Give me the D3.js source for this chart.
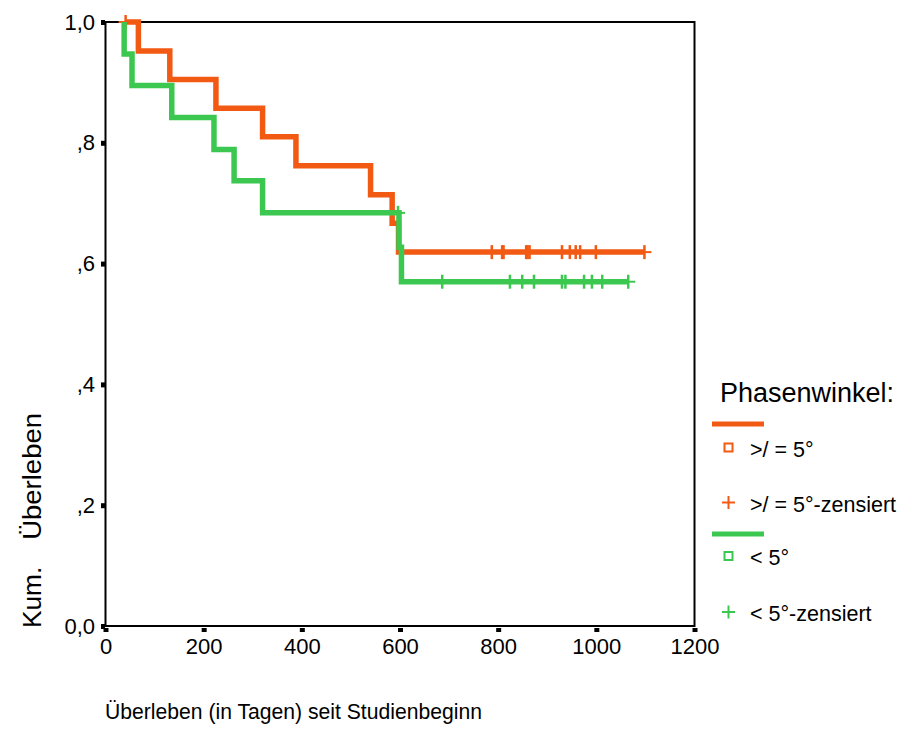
<!DOCTYPE html>
<html>
<head>
<meta charset="utf-8">
<script src="https://cdn.jsdelivr.net/npm/d3@7"></script>
<style>
  body { margin: 0; background: #fff; }
  text { font-family: "Liberation Sans", Arial, sans-serif; fill: #000; }
</style>
</head>
<body>
<div id="chart"></div>
<script>
// Kaplan-Meier data
const orangeStart = 41;
const orangeEventTimes = [67, 131, 225, 320, 388, 540, 584, 597];
const orangeSurv = [0.952, 0.905, 0.857, 0.810, 0.762, 0.714, 0.667, 0.619];
const orangeCensored = [41, 787, 808, 811, 857, 860, 864, 930, 946, 958, 967, 999, 1098];

const greenStart = 38;
const greenEventTimes = [38, 54, 135, 221, 262, 320, 598, 603];
const greenSurv = [0.947, 0.895, 0.842, 0.789, 0.737, 0.684, 0.627, 0.570];
const greenCensored = [596, 686, 824, 849, 873, 930, 937, 975, 991, 1012, 1065];

const xTicks = [0, 200, 400, 600, 800, 1000, 1200];
const yTicks = [0, 0.2, 0.4, 0.6, 0.8, 1.0];
const yTickLabels = ["0,0", ",2", ",4", ",6", ",8", "1,0"];

const orange = "#f25a14";
const green = "#3cc850";
const fontFamily = "Liberation Sans, Arial, sans-serif";

const svg = d3.select("#chart").append("svg")
    .attr("width", 900)
    .attr("height", 729);

svg.append("rect").attr("width", 900).attr("height", 729).attr("fill", "#fff");

const x = d3.scaleLinear().domain([0, 1200]).range([105.5, 694.5]);
const y = d3.scaleLinear().domain([0, 1]).range([626, 22]);

// frame
svg.append("rect")
    .attr("x", x(0))
    .attr("y", y(1))
    .attr("width", x(1200) - x(0))
    .attr("height", y(0) - y(1))
    .attr("fill", "none")
    .attr("stroke", "#000")
    .attr("stroke-width", 2);

// y axis
const yAxis = svg.append("g")
    .attr("transform", "translate(" + (x(0) - 0.5) + ",0)")
    .call(d3.axisLeft(y).tickValues(yTicks).tickSize(4).tickSizeOuter(0)
        .tickFormat((d, i) => yTickLabels[i]));
yAxis.select(".domain").remove();
yAxis.selectAll(".tick line").attr("stroke", "#000").attr("stroke-width", 5);
yAxis.selectAll(".tick text")
    .attr("x", -10)
    .style("font-size", "22px")
    .style("font-family", fontFamily);

// x axis
const xAxis = svg.append("g")
    .attr("transform", "translate(0,628)")
    .call(d3.axisBottom(x).tickValues(xTicks).tickSize(4).tickSizeOuter(0)
        .tickFormat(d3.format("d")));
xAxis.select(".domain").remove();
xAxis.selectAll(".tick line").attr("stroke", "#000").attr("stroke-width", 5);
xAxis.selectAll(".tick text")
    .attr("y", 10)
    .style("font-size", "22px")
    .style("font-family", fontFamily);

// step function helpers
function stepPoints(start, times, surv, end) {
    const pts = [[start, 1]];
    times.forEach((t, i) => pts.push([t, surv[i]]));
    pts.push([end, surv[surv.length - 1]]);
    return pts;
}
function survAt(t, times, surv) {
    let s = 1;
    times.forEach((tt, i) => { if (tt <= t) s = surv[i]; });
    return s;
}

const stepLine = d3.line()
    .x(d => x(d[0]))
    .y(d => y(d[1]))
    .curve(d3.curveStepAfter);

function drawGroup(start, times, surv, censored, color) {
    const end = d3.max(censored);
    svg.append("path")
        .attr("d", stepLine(stepPoints(start, times, surv, end)))
        .attr("fill", "none")
        .attr("stroke", color)
        .attr("stroke-width", 5.5)
        .attr("stroke-linejoin", "miter");

    const marks = svg.append("g").selectAll("g")
        .data(censored)
        .enter().append("g")
        .attr("transform", d => "translate(" + x(d) + "," + y(survAt(d, times, surv)) + ")");
    marks.append("line")
        .attr("x1", 0).attr("x2", 0).attr("y1", -7).attr("y2", 7)
        .attr("stroke", color).attr("stroke-width", 2.5);
    marks.append("line")
        .attr("x1", -7).attr("x2", 7).attr("y1", 0).attr("y2", 0)
        .attr("stroke", color).attr("stroke-width", 2);
}

drawGroup(orangeStart, orangeEventTimes, orangeSurv, orangeCensored, orange);
drawGroup(greenStart, greenEventTimes, greenSurv, greenCensored, green);

// axis titles
svg.append("text")
    .attr("transform", "translate(105,719) scale(0.94,1)")
    .style("font-size", "22.5px")
    .text("Überleben (in Tagen) seit Studienbeginn");

svg.append("text")
    .attr("transform", "translate(41,628) rotate(-90) scale(1.05,1)")
    .style("font-size", "25px")
    .text("Kum.");
svg.append("text")
    .attr("transform", "translate(41,413) rotate(-90) scale(1.1,1)")
    .attr("text-anchor", "end")
    .style("font-size", "25px")
    .text("Überleben");

// legend
const legend = svg.append("g");
legend.append("text")
    .attr("x", 720)
    .attr("y", 402)
    .style("font-size", "27px")
    .text("Phasenwinkel:");

const legendItems = [
    { type: "line", color: orange, y: 424 },
    { type: "square", color: orange, y: 447.5, label: ">/ = 5°" },
    { type: "plus", color: orange, y: 502.5, label: ">/ = 5°-zensiert" },
    { type: "line", color: green, y: 534 },
    { type: "square", color: green, y: 556, label: "< 5°" },
    { type: "plus", color: green, y: 612, label: "< 5°-zensiert" }
];

legendItems.forEach(item => {
    if (item.type === "line") {
        legend.append("line")
            .attr("x1", 712).attr("x2", 764)
            .attr("y1", item.y).attr("y2", item.y)
            .attr("stroke", item.color).attr("stroke-width", 5);
        return;
    }
    if (item.type === "square") {
        legend.append("rect")
            .attr("x", 724.5).attr("y", item.y - 4)
            .attr("width", 8).attr("height", 8)
            .attr("fill", "#fff")
            .attr("stroke", item.color).attr("stroke-width", 2);
    } else {
        legend.append("line")
            .attr("x1", 728.5).attr("x2", 728.5)
            .attr("y1", item.y - 6.5).attr("y2", item.y + 6.5)
            .attr("stroke", item.color).attr("stroke-width", 2);
        legend.append("line")
            .attr("x1", 722).attr("x2", 735)
            .attr("y1", item.y).attr("y2", item.y)
            .attr("stroke", item.color).attr("stroke-width", 2);
    }
    legend.append("text")
        .attr("x", 750)
        .attr("y", item.y + 9)
        .style("font-size", "21.5px")
        .text(item.label);
});
</script>
</body>
</html>
